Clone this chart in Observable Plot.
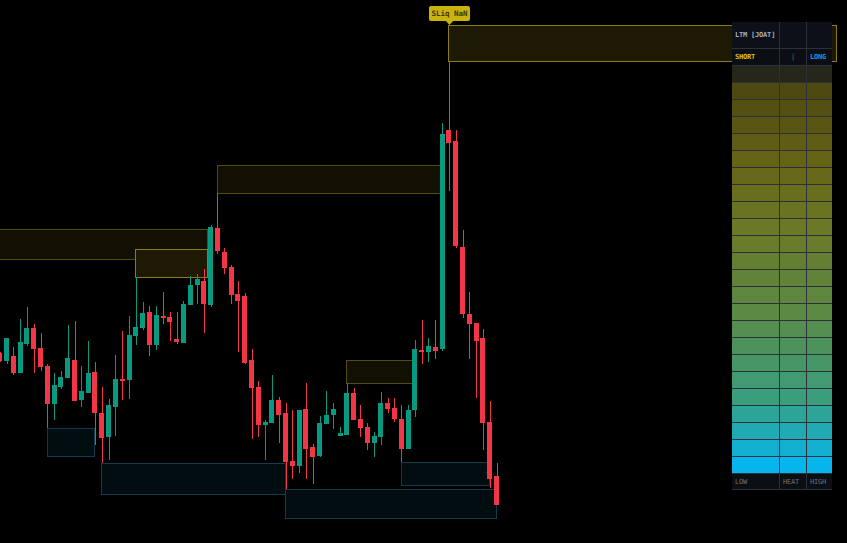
<!DOCTYPE html>
<html><head><meta charset="utf-8">
<script src="https://cdn.jsdelivr.net/npm/d3@7"></script>
<script src="https://cdn.jsdelivr.net/npm/@observablehq/plot@0.6"></script>
<style>
html,body{margin:0;padding:0;background:#000;}
#wrap{position:relative;width:847px;height:543px;overflow:hidden;background:#000;}
#wrap svg{display:block;}
.tbl{position:absolute;left:732px;top:22px;width:100px;font-family:"DejaVu Sans Mono",monospace;font-size:7px;letter-spacing:-0.2px;}
.tr{display:flex;box-sizing:border-box;border-bottom:1px solid #2b303b;}
.td{box-sizing:border-box;border-right:1px solid #2b303b;overflow:visible;white-space:nowrap;display:flex;align-items:center;}
.td:last-child{border-right:none;}
</style></head><body><div id="wrap"></div>
<script>
// ---- candle data (price units) ----
const opens  = [190,182,187,170,199,215,195,177,139,156,165,183,143,150,171,130,106,136,164,163,207,215,231,198,227,226,204,200,238,258,262,238,315,291,276,249,247,183,156,118,120,143,130,82,77,134,96,87,119,128,107,108,150,124,116,100,106,140,135,124,94,133,193,191,196,194,413,402,296,229,220,205,121,67];
const highs  = [191,205,196,224,236,219,210,179,170,172,218,222,177,202,181,156,144,188,212,227,266,241,237,237,251,231,231,242,267,269,274,318,350,295,278,262,250,194,162,123,168,146,140,133,133,160,99,127,152,140,116,160,155,138,120,111,151,145,145,138,138,203,223,205,223,420,482,413,313,251,220,214,142,80];
const lows   = [181,179,168,170,197,170,172,115,123,154,165,142,136,150,98,80,83,107,143,144,198,213,187,193,219,202,199,200,238,239,210,236,289,269,239,191,179,104,106,83,120,100,54,64,70,64,59,86,119,114,107,108,123,106,93,86,98,130,121,81,94,126,179,181,184,192,352,295,225,184,145,93,55,38];
const closes = [182,205,170,201,215,194,176,139,158,166,185,142,152,170,130,105,138,164,162,208,216,230,198,228,225,221,201,239,258,264,239,316,292,275,248,242,180,155,118,121,143,128,81,77,133,94,86,120,128,134,110,150,123,115,100,107,140,134,124,94,133,194,191,197,192,409,400,297,229,219,202,120,64,38];

// ---- zones (bar index / price) ----
const supplyStart  = [-5, 19.9, 32, 51, 66];
const supplyEnd    = [30.6, 30.6, 64.7, 60.6, 123];
const supplyTop    = [314, 294, 378, 183, 518];
const supplyBottom = [284, 266, 350, 160, 482];
const supplyActive = [false, true, false, false, true];

const demandStart  = [7, 15, 42, 59];
const demandEnd    = [14, 42, 73, 72];
const demandTop    = [115, 80, 54, 81];
const demandBottom = [87, 49, 25, 58];

// ---- label ----
const labelTexts = ["SLiq NaN"];
const labelIndex = [66];
const labelPrice = [518];

// ---- table ----
const tableTitle = "LTM [JOAT]";
const sideLabels = ["SHORT", "|", "LONG"];
const footLabels = ["LOW", "HEAT", "HIGH"];
const heatRows = 24;

const candles = opens.map((o, i) => ({i, o, h: highs[i], l: lows[i], c: closes[i]}));
const supply = supplyStart.map((s, k) => ({s, e: supplyEnd[k], t: supplyTop[k], b: supplyBottom[k], a: supplyActive[k]}));
const demand = demandStart.map((s, k) => ({s, e: demandEnd[k], t: demandTop[k], b: demandBottom[k]}));
const labels = labelTexts.map((t, k) => ({t, i: labelIndex[k], p: labelPrice[k]}));

const UP = "#089981", DN = "#f23645";
const hw = 0.367;
const col = d => d.c >= d.o ? UP : DN;

function labelMark(a, b) {
  const sc = (b && typeof b.x === "function") ? b : a;
  const g = d3.create("svg:g");
  for (const L of labels) {
    const px = Math.round(sc.x(L.i)) + 0.5, py = Math.round(sc.y(L.p));
    const w = 41, h = 15;
    g.append("rect").attr("x", px - w / 2).attr("y", py - 4 - h).attr("width", w).attr("height", h)
      .attr("rx", 2).attr("fill", "#c9b30e");
    g.append("path").attr("d", `M${px - 4},${py - 4.5}L${px + 4},${py - 4.5}L${px},${py}Z`).attr("fill", "#c9b30e");
    g.append("text").attr("x", px).attr("y", py - 4 - h / 2).attr("dy", "0.35em")
      .attr("text-anchor", "middle").attr("fill", "#3d3507").attr("font-weight", "bold")
      .attr("font-family", "DejaVu Sans Mono, monospace").attr("font-size", 7.5).text(L.t);
  }
  return g.node();
}

const chart = Plot.plot({
  width: 847, height: 543, margin: 0,
  x: {domain: [0.044, 124.49], axis: null},
  y: {domain: [0, 543], axis: null},
  style: {background: "#000", overflow: "visible"},
  marks: [
    Plot.rect(demand, {x1: "s", x2: "e", y1: "b", y2: "t", fill: "#020d12", stroke: "#0f3b4c", strokeWidth: 1, shapeRendering: "crispEdges"}),
    Plot.rect(supply, {x1: "s", x2: "e", y1: "b", y2: "t", fill: d => d.a ? "#1d1905" : "#120f03", stroke: d => d.a ? "#8a7c18" : "#544a10", strokeWidth: 1, shapeRendering: "crispEdges"}),
    Plot.ruleX(candles, {x: "i", y1: "l", y2: "h", stroke: col, strokeWidth: 1, shapeRendering: "crispEdges"}),
    Plot.rect(candles, {x1: d => d.i - hw, x2: d => d.i + hw, y1: "o", y2: "c", fill: col, shapeRendering: "crispEdges"}),
    labelMark
  ]
});
const wrap = document.getElementById("wrap");
wrap.appendChild(chart);

// ---- table overlay ----
const colW = [48, 27, 25];
const tbl = d3.select(wrap).append("div").attr("class", "tbl");
function addRow(h, texts, bg, colors, opts = {}) {
  const r = tbl.append("div").attr("class", "tr").style("height", h + "px").style("background", bg);
  colW.forEach((w, j) => {
    const c = r.append("div").attr("class", "td").style("width", w + "px")
      .style("padding-left", (opts.pad ? opts.pad[j] : 3) + "px")
      .style("color", colors ? colors[j] : "#888");
    if (opts.bold) c.style("font-weight", "bold");
    if (texts) c.text(texts[j]);
  });
}
addRow(27, [tableTitle, "", ""], "#0c1019", ["#a9adb6", "#a9adb6", "#a9adb6"], {bold: true, pad: [3, 3, 3]});
addRow(17, sideLabels, "#0b0e13", ["#d8c60c", "#555a64", "#1c9ad6"], {bold: true, pad: [3, 11, 3]});
const heat = d3.scaleLinear()
  .domain([0, 1, 5, 9, 14, 19, 23])
  .range(["#26261a", "#4d4911", "#656316", "#6b7826", "#5b8a45", "#3a9e7c", "#05b5ec"])
  .interpolate(d3.interpolateRgb);
for (let k = 0; k < heatRows; k++) addRow(17, null, heat(k));
addRow(16, footLabels, "#0b0e13", ["#6c707a", "#6c707a", "#6c707a"], {pad: [3, 3, 3]});
</script></body></html>
